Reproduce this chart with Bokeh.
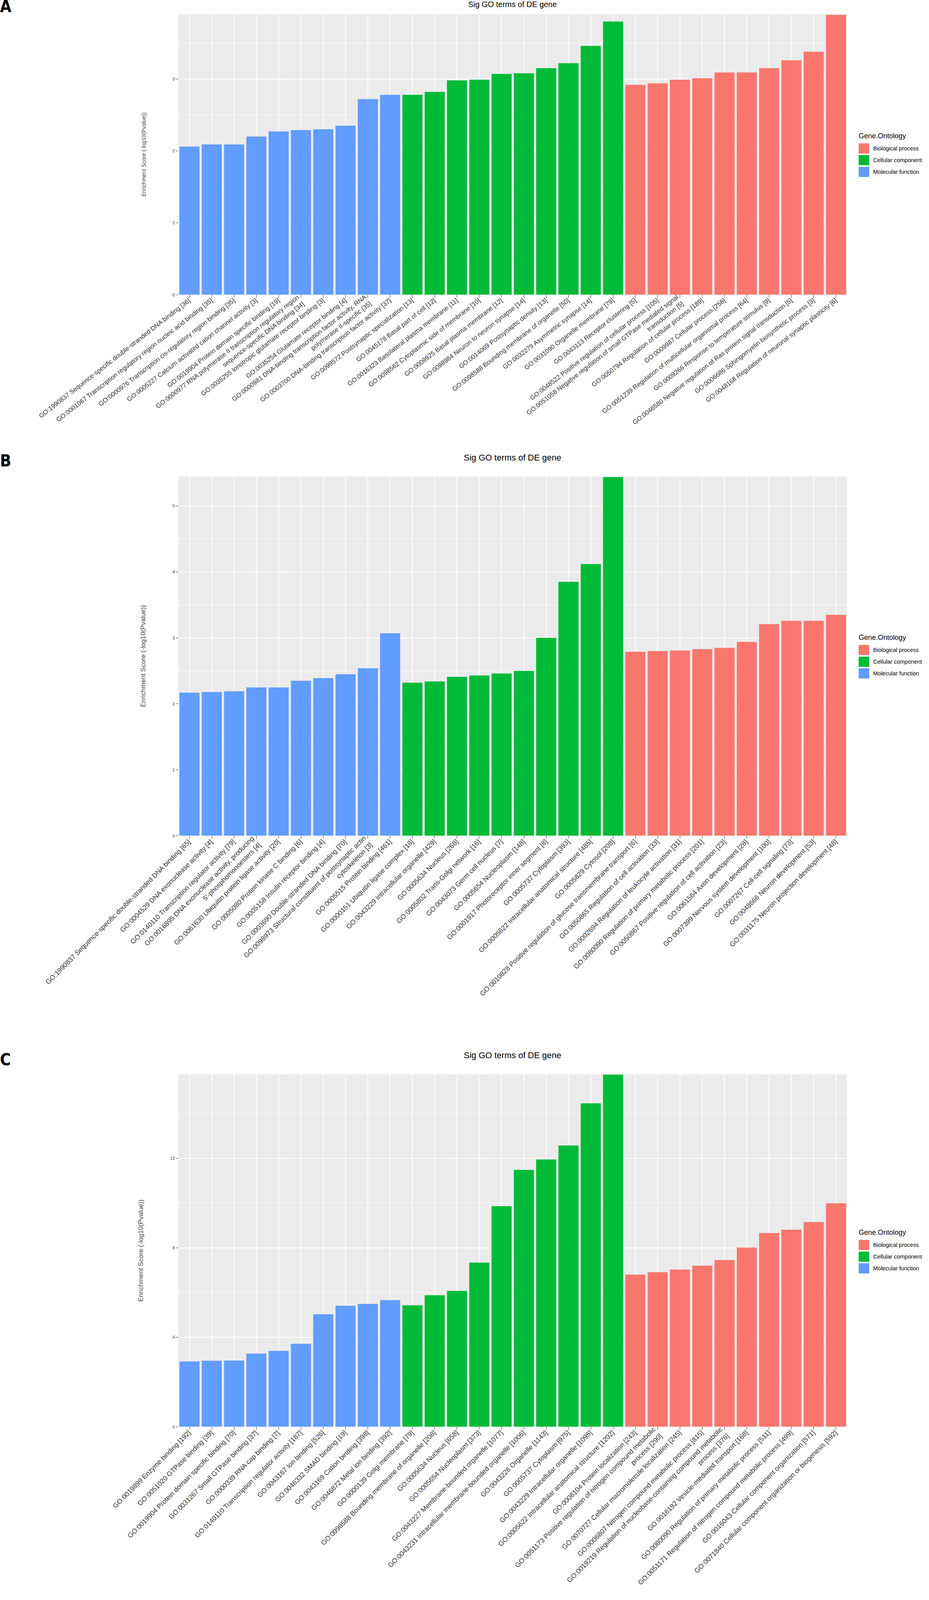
from bokeh.plotting import figure
from bokeh.layouts import column, row
from bokeh.models import ColumnDataSource, FactorRange, Range1d, FixedTicker, Div
from bokeh.embed import file_html
from bokeh.resources import INLINE
import math

BP_COLOR = "#F8766D"
CC_COLOR = "#00BA38"
MF_COLOR = "#619CFF"

# ---- panel A ----
a_mf_terms = [
    "GO:1990837 Sequence-specific double-stranded DNA binding [36]",
    "GO:0001067 Transcription regulatory region nucleic acid binding [35]",
    "GO:0000976 Transcription cis-regulatory region binding [35]",
    "GO:0005227 Calcium activated cation channel activity [3]",
    "GO:0019904 Protein domain specific binding [19]",
    "GO:0000977 RNA polymerase II transcription regulatory region\nsequence-specific DNA binding [34]",
    "GO:0035255 Ionotropic glutamate receptor binding [3]",
    "GO:0035254 Glutamate receptor binding [4]",
    "GO:0000981 DNA-binding transcription factor activity, RNA\npolymerase II-specific [35]",
    "GO:0003700 DNA-binding transcription factor activity [37]",
]
a_mf_scores = [2.06, 2.09, 2.09, 2.20, 2.27, 2.29, 2.30, 2.35, 2.72, 2.78]
a_cc_terms = [
    "GO:0099572 Postsynaptic specialization [13]",
    "GO:0045178 Basal part of cell [12]",
    "GO:0016323 Basolateral plasma membrane [11]",
    "GO:0098562 Cytoplasmic side of membrane [10]",
    "GO:0009925 Basal plasma membrane [12]",
    "GO:0098984 Neuron to neuron synapse [14]",
    "GO:0014069 Postsynaptic density [13]",
    "GO:0098588 Bounding membrane of organelle [50]",
    "GO:0032279 Asymmetric synapse [14]",
    "GO:0031090 Organelle membrane [79]",
]
a_cc_scores = [2.78, 2.82, 2.98, 2.99, 3.07, 3.08, 3.15, 3.22, 3.46, 3.80]
a_bp_terms = [
    "GO:0043113 Receptor clustering [5]",
    "GO:0048522 Positive regulation of cellular process [105]",
    "GO:0051058 Negative regulation of small GTPase mediated signal\ntransduction [5]",
    "GO:0050794 Regulation of cellular process [189]",
    "GO:0009987 Cellular process [258]",
    "GO:0051239 Regulation of multicellular organismal process [64]",
    "GO:0009266 Response to temperature stimulus [9]",
    "GO:0046580 Negative regulation of Ras protein signal transduction [5]",
    "GO:0006686 Sphingomyelin biosynthetic process [3]",
    "GO:0048168 Regulation of neuronal synaptic plasticity [6]",
]
a_bp_scores = [2.92, 2.94, 2.99, 3.01, 3.09, 3.09, 3.15, 3.26, 3.38, 3.89]

# ---- panel B ----
b_mf_terms = [
    "GO:1990837 Sequence-specific double-stranded DNA binding [65]",
    "GO:0004529 DNA exonuclease activity [4]",
    "GO:0140110 Transcription regulator activity [79]",
    "GO:0016895 DNA exonuclease activity, producing\n5'-phosphomonoesters [4]",
    "GO:0061630 Ubiquitin protein ligase activity [20]",
    "GO:0005080 Protein kinase C binding [6]",
    "GO:0005158 Insulin receptor binding [4]",
    "GO:0003690 Double-stranded DNA binding [70]",
    "GO:0098973 Structural constituent of postsynaptic actin\ncytoskeleton [3]",
    "GO:0005515 Protein binding [461]",
]
b_mf_scores = [2.17, 2.18, 2.19, 2.25, 2.25, 2.35, 2.39, 2.45, 2.54, 3.07]
b_cc_terms = [
    "GO:0000151 Ubiquitin ligase complex [18]",
    "GO:0043229 Intracellular organelle [429]",
    "GO:0005634 Nucleus [268]",
    "GO:0005802 Trans-Golgi network [16]",
    "GO:0043073 Germ cell nucleus [7]",
    "GO:0005654 Nucleoplasm [148]",
    "GO:0001917 Photoreceptor inner segment [8]",
    "GO:0005737 Cytoplasm [393]",
    "GO:0005622 Intracellular anatomical structure [485]",
    "GO:0005829 Cytosol [208]",
]
b_cc_scores = [2.32, 2.34, 2.41, 2.43, 2.46, 2.50, 3.00, 3.85, 4.12, 5.44]
b_bp_terms = [
    "GO:0010828 Positive regulation of glucose transmembrane transport [6]",
    "GO:0050865 Regulation of cell activation [33]",
    "GO:0002694 Regulation of leukocyte activation [31]",
    "GO:0080090 Regulation of primary metabolic process [201]",
    "GO:0050867 Positive regulation of cell activation [23]",
    "GO:0061564 Axon development [28]",
    "GO:0007399 Nervous system development [100]",
    "GO:0007267 Cell-cell signaling [73]",
    "GO:0048666 Neuron development [53]",
    "GO:0031175 Neuron projection development [48]",
]
b_bp_scores = [2.79, 2.80, 2.81, 2.83, 2.85, 2.94, 3.21, 3.26, 3.26, 3.35]

# ---- panel C ----
c_mf_terms = [
    "GO:0019899 Enzyme binding [192]",
    "GO:0051020 GTPase binding [39]",
    "GO:0019904 Protein domain specific binding [70]",
    "GO:0031267 Small GTPase binding [37]",
    "GO:0000339 RNA cap binding [7]",
    "GO:0140110 Transcription regulator activity [187]",
    "GO:0043167 Ion binding [526]",
    "GO:0046332 SMAD binding [19]",
    "GO:0043169 Cation binding [398]",
    "GO:0046872 Metal ion binding [392]",
]
c_mf_scores = [2.92, 2.95, 2.96, 3.27, 3.39, 3.71, 5.03, 5.41, 5.49, 5.66]
c_cc_terms = [
    "GO:0000139 Golgi membrane [79]",
    "GO:0098588 Bounding membrane of organelle [208]",
    "GO:0005634 Nucleus [658]",
    "GO:0005654 Nucleoplasm [373]",
    "GO:0043227 Membrane-bounded organelle [1077]",
    "GO:0043231 Intracellular membrane-bounded organelle [1006]",
    "GO:0043226 Organelle [1143]",
    "GO:0005737 Cytoplasm [975]",
    "GO:0043229 Intracellular organelle [1095]",
    "GO:0005622 Intracellular anatomical structure [1202]",
]
c_cc_scores = [5.43, 5.88, 6.07, 7.34, 9.86, 11.48, 11.95, 12.57, 14.46, 15.74]
c_bp_terms = [
    "GO:0008104 Protein localization [243]",
    "GO:0051173 Positive regulation of nitrogen compound metabolic\nprocess [290]",
    "GO:0070727 Cellular macromolecule localization [245]",
    "GO:0006807 Nitrogen compound metabolic process [815]",
    "GO:0019219 Regulation of nucleobase-containing compound metabolic\nprocess [376]",
    "GO:0016192 Vesicle-mediated transport [168]",
    "GO:0080090 Regulation of primary metabolic process [511]",
    "GO:0051171 Regulation of nitrogen compound metabolic process [499]",
    "GO:0016043 Cellular component organization [571]",
    "GO:0071840 Cellular component organization or biogenesis [592]",
]
c_bp_scores = [6.80, 6.91, 7.03, 7.20, 7.45, 8.01, 8.66, 8.81, 9.15, 9.99]

ontologies = ["Biological process", "Cellular component", "Molecular function"]
onto_colors = [BP_COLOR, CC_COLOR, MF_COLOR]
plot_title = "Sig GO terms of DE gene"
legend_title = "Gene.Ontology"

W = 2362
FRAME_L = 456
FRAME_W = 1712
GAP = 30
FIG_W = FRAME_L + FRAME_W + GAP
FONT = "Liberation Sans"


def header(letter, height, letter_top, title_top, title_px):
    # panel letter and plot title above each figure
    html = (
        f'<div style="position:relative;width:{W}px;height:{height}px;">'
        f'<span style="position:absolute;left:0px;top:{letter_top}px;line-height:1;'
        f"font-family:'Liberation Sans Narrow','DejaVu Sans Condensed',sans-serif;"
        f'font-weight:bold;font-size:42px;color:#000;">{letter}</span>'
        f'<span style="position:absolute;left:{FRAME_L}px;width:{FRAME_W}px;'
        f'top:{title_top}px;line-height:1;text-align:center;white-space:nowrap;'
        f"font-family:'{FONT}',sans-serif;font-size:{title_px};color:#000;\">"
        f'{plot_title}</span></div>'
    )
    return Div(text=html, width=W, height=height, margin=0)


def legend_box(height, frame_h):
    # ggplot-style legend to the right of the panel, centred on the frame
    leg_h = 22 + 8 + 3 * 26 + 2 * 4
    rows = "".join(
        f'<div style="display:flex;align-items:center;height:26px;margin-bottom:4px;">'
        f'<span style="display:inline-block;width:27px;height:26px;background:{c};"></span>'
        f'<span style="margin-left:10px;font-size:14.5px;color:#000;">{n}</span></div>'
        for n, c in zip(ontologies, onto_colors)
    )
    html = (
        f'<div style="position:relative;width:{W - FIG_W}px;height:{height}px;">'
        f'<div style="position:absolute;left:0px;top:{frame_h / 2 - leg_h / 2:.0f}px;'
        f"white-space:nowrap;font-family:'{FONT}',sans-serif;\">"
        f'<div style="font-size:18px;line-height:22px;margin-bottom:8px;color:#000;">'
        f'{legend_title}</div>{rows}</div></div>'
    )
    return Div(text=html, width=W - FIG_W, height=height, margin=0)


def make_panel(mf, cc, bp, y_end, ticks, minor, height, frame_h,
               angle, label_px, ylab_px):
    factors = mf[0] + cc[0] + bp[0]
    p = figure(width=FIG_W, height=height, x_range=FactorRange(factors=factors),
               y_range=Range1d(0, y_end), output_backend="svg", toolbar_location=None,
               min_border_left=FRAME_L, min_border_right=GAP,
               min_border_top=0, min_border_bottom=height - frame_h)
    p.background_fill_color = "#EBEBEB"
    p.outline_line_color = None

    for (terms, scores), color in [(bp, BP_COLOR), (cc, CC_COLOR), (mf, MF_COLOR)]:
        src = ColumnDataSource(dict(term=terms, score=scores))
        p.vbar(x="term", top="score", width=0.9, source=src,
               fill_color=color, line_color=None)

    p.xgrid.grid_line_color = "white"
    p.xgrid.grid_line_width = 2
    p.ygrid.grid_line_color = "white"
    p.ygrid.grid_line_width = 2
    p.ygrid.minor_grid_line_color = "white"
    p.ygrid.minor_grid_line_width = 1

    p.xaxis.major_label_orientation = angle
    p.xaxis.major_label_text_font = FONT
    p.xaxis.major_label_text_font_size = label_px
    p.xaxis.major_label_text_color = "#333333"
    p.xaxis.major_tick_out = 8
    p.xaxis.major_tick_in = 0
    p.xaxis.major_tick_line_color = "#333333"
    p.xaxis.axis_line_color = None
    p.xaxis.major_label_standoff = 4

    p.yaxis.ticker = FixedTicker(ticks=ticks, minor_ticks=minor)
    p.yaxis.minor_tick_line_color = None
    p.yaxis.axis_line_color = None
    p.yaxis.major_tick_out = 6
    p.yaxis.major_tick_in = 0
    p.yaxis.major_tick_line_color = "#333333"
    p.yaxis.major_label_text_font = FONT
    p.yaxis.major_label_text_font_size = "11px"
    p.yaxis.major_label_text_color = "#333333"
    p.yaxis.major_label_standoff = 3
    p.yaxis.axis_label = "Enrichment Score (-log10(Pvalue))"
    p.yaxis.axis_label_text_font = FONT
    p.yaxis.axis_label_text_font_style = "normal"
    p.yaxis.axis_label_text_font_size = ylab_px
    p.yaxis.axis_label_standoff = 62
    return row(p, legend_box(height, frame_h), spacing=0)


ha = header("A", 36, -4, 1, "20px")
pa = make_panel((a_mf_terms, a_mf_scores), (a_cc_terms, a_cc_scores),
                (a_bp_terms, a_bp_scores), 3.90, [0, 1, 2, 3], [0.5, 1.5, 2.5, 3.5],
                1119, 718, math.radians(38), "16.5px", "14px")
hb = header("B", 64, 4, 6, "22px")
pb = make_panel((b_mf_terms, b_mf_scores), (b_cc_terms, b_cc_scores),
                (b_bp_terms, b_bp_scores), 5.45, [0, 1, 2, 3, 4, 5],
                [0.5, 1.5, 2.5, 3.5, 4.5], 1453, 920, math.pi / 4, "17.5px", "17px")
hc = header("C", 78, 20, 19, "22px")
pc = make_panel((c_mf_terms, c_mf_scores), (c_cc_terms, c_cc_scores),
                (c_bp_terms, c_bp_scores), 15.75, [0, 4, 8, 12], [2, 6, 10, 14],
                1340, 904, math.pi / 4, "17.5px", "17px")

layout = column(ha, pa, hb, pb, hc, pc, spacing=0)
open("out.html", "w").write(file_html(layout, INLINE))
